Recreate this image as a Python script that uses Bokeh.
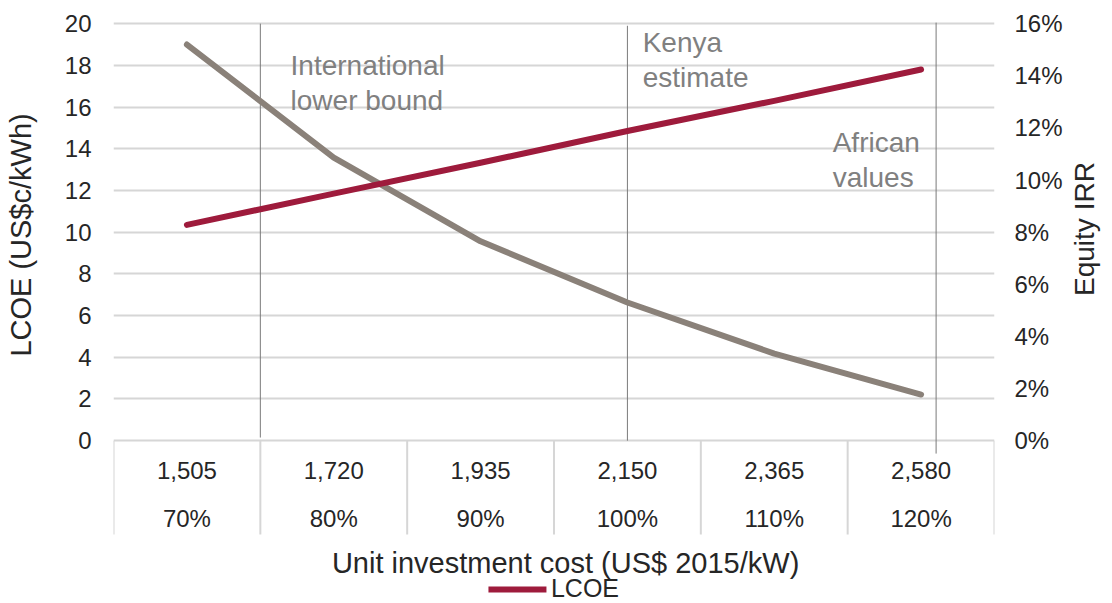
import math
from bokeh.plotting import figure
from bokeh.models import (Range1d, LinearAxis, FixedTicker, Legend, LegendItem,
                          NumeralTickFormatter)
from bokeh.embed import file_html
from bokeh.resources import INLINE
from bokeh.core.properties import value

# ---------------- data ----------------
cost_labels = ["1,505", "1,720", "1,935", "2,150", "2,365", "2,580"]
share_labels = ["70%", "80%", "90%", "100%", "110%", "120%"]
unit_cost = [1505, 1720, 1935, 2150, 2365, 2580]
lcoe = [10.35, 11.85, 13.33, 14.85, 16.30, 17.80]          # US$c/kWh (left axis)
equity_irr = [0.152, 0.1086, 0.0765, 0.053, 0.0334, 0.0177]  # right axis
lcoe_ticks = [0, 2, 4, 6, 8, 10, 12, 14, 16, 18, 20]
irr_ticks = [0, 0.02, 0.04, 0.06, 0.08, 0.10, 0.12, 0.14, 0.16]

x_title = "Unit investment cost (US$ 2015/kW)"
ann_line1 = ["International", "Kenya", "African"]
ann_line2 = ["lower bound", "estimate", "values"]
ann_cost = [1612.5, 2150, 2602]     # investment cost marked by each reference line

# ---------------- layout / style ----------------
FONT = "Liberation Sans"
RED = "#9e1b3c"
GREY = "#8a8179"
GRID = "#d6d6d6"
TXT = "#262626"
ANN = "#808080"
NB = "\u00a0"

Y1 = 20.2
Y0 = -7.81
STEP = 215.0
n = len(unit_cost)
xc = [(c - unit_cost[0]) / STEP + 0.5 for c in unit_cost]
bounds_x = list(range(n + 1))
ann_x = [(c - unit_cost[0]) / STEP + 0.5 for c in ann_cost]

p = figure(frame_width=881, frame_height=584,
           x_range=Range1d(0, n), y_range=Range1d(Y0, Y1),
           output_backend="svg", toolbar_location=None,
           min_border_left=113, min_border_right=0, min_border_top=19,
           min_border_bottom=0, outline_line_color=None)
p.background_fill_color = "white"
p.border_fill_color = "white"

p.extra_y_ranges = {"irr": Range1d(Y0 * 0.008, Y1 * 0.008)}

# grid
p.xgrid.visible = False
p.ygrid.ticker = FixedTicker(ticks=lcoe_ticks)
p.ygrid.grid_line_color = GRID
p.ygrid.grid_line_width = 2

# left axis
ya = p.yaxis[0]
ya.ticker = FixedTicker(ticks=lcoe_ticks)
ya.axis_line_color = None
ya.major_tick_line_color = None
ya.minor_tick_line_color = None
ya.major_tick_out = 0
ya.major_label_standoff = 22
ya.major_label_text_font = FONT
ya.major_label_text_font_size = "24px"
ya.major_label_text_color = TXT
ya.axis_label = NB * 19 + "LCOE (US$c/kWh)"
ya.axis_label_text_font = FONT
ya.axis_label_text_font_size = "29px"
ya.axis_label_text_font_style = "normal"
ya.axis_label_text_color = TXT
ya.axis_label_standoff = 25

# right axis
ra = LinearAxis(y_range_name="irr", ticker=FixedTicker(ticks=irr_ticks),
                formatter=NumeralTickFormatter(format="0%"))
ra.axis_line_color = None
ra.major_tick_line_color = None
ra.minor_tick_line_color = None
ra.major_tick_out = 0
ra.major_label_standoff = 20
ra.major_label_text_font = FONT
ra.major_label_text_font_size = "24px"
ra.major_label_text_color = TXT
ra.axis_label = NB * 2 + "Equity IRR"
ra.axis_label_text_font = FONT
ra.axis_label_text_font_size = "28px"
ra.axis_label_text_font_style = "normal"
ra.axis_label_text_color = TXT
ra.axis_label_standoff = 19
try:
    ra.axis_label_orientation = math.pi / 2
except Exception:
    pass
p.add_layout(ra, "right")

# bottom axis hidden: the category table and its title are drawn below zero
p.xaxis.visible = False

# category table below the plot
p.segment(x0=bounds_x, y0=[0] * (n + 1), x1=bounds_x, y1=[-4.5] * (n + 1),
          line_color=GRID, line_width=2)
p.text(x=xc, y=[-1.44] * n, text=cost_labels, text_align="center",
       text_baseline="middle", text_font=value(FONT), text_font_size="24px",
       text_color=TXT)
p.text(x=xc, y=[-3.74] * n, text=share_labels, text_align="center",
       text_baseline="middle", text_font=value(FONT), text_font_size="24px",
       text_color=TXT)
p.text(x=[3.079], y=[-5.85], text=[x_title], text_align="center",
       text_baseline="middle", text_font=value(FONT), text_font_size="29px",
       text_color=TXT)

# reference lines
p.segment(x0=ann_x, y0=[20, 19.9, 20.05], x1=ann_x, y1=[0.15, 0, -0.62],
          line_color="#7a7a7a", line_width=1)
ann_tx = [1.206, 3.604, 4.898]
p.text(x=ann_tx, y=[17.99, 19.09, 14.29], text=ann_line1, text_align="left",
       text_baseline="alphabetic", text_font=value(FONT), text_font_size="28px",
       text_color=ANN)
p.text(x=ann_tx, y=[16.31, 17.41, 12.61], text=ann_line2, text_align="left",
       text_baseline="alphabetic", text_font=value(FONT), text_font_size="28px",
       text_color=ANN)

# series
gr = p.line(xc, equity_irr, y_range_name="irr", line_color=GREY, line_width=6,
            line_cap="round", line_join="round")
lr = p.line(xc, lcoe, line_color=RED, line_width=6, line_cap="round",
            line_join="round")

legend = Legend(items=[LegendItem(label="LCOE", renderers=[lr])],
                location="bottom_center", orientation="horizontal",
                glyph_width=58, glyph_height=14, label_height=14,
                label_standoff=5,
                label_text_font=FONT, label_text_font_size="25px",
                label_text_color=TXT, border_line_color=None,
                background_fill_alpha=0, padding=0, margin=0, spacing=0)
p.add_layout(legend)

open("out.html", "w").write(file_html(p, INLINE))
